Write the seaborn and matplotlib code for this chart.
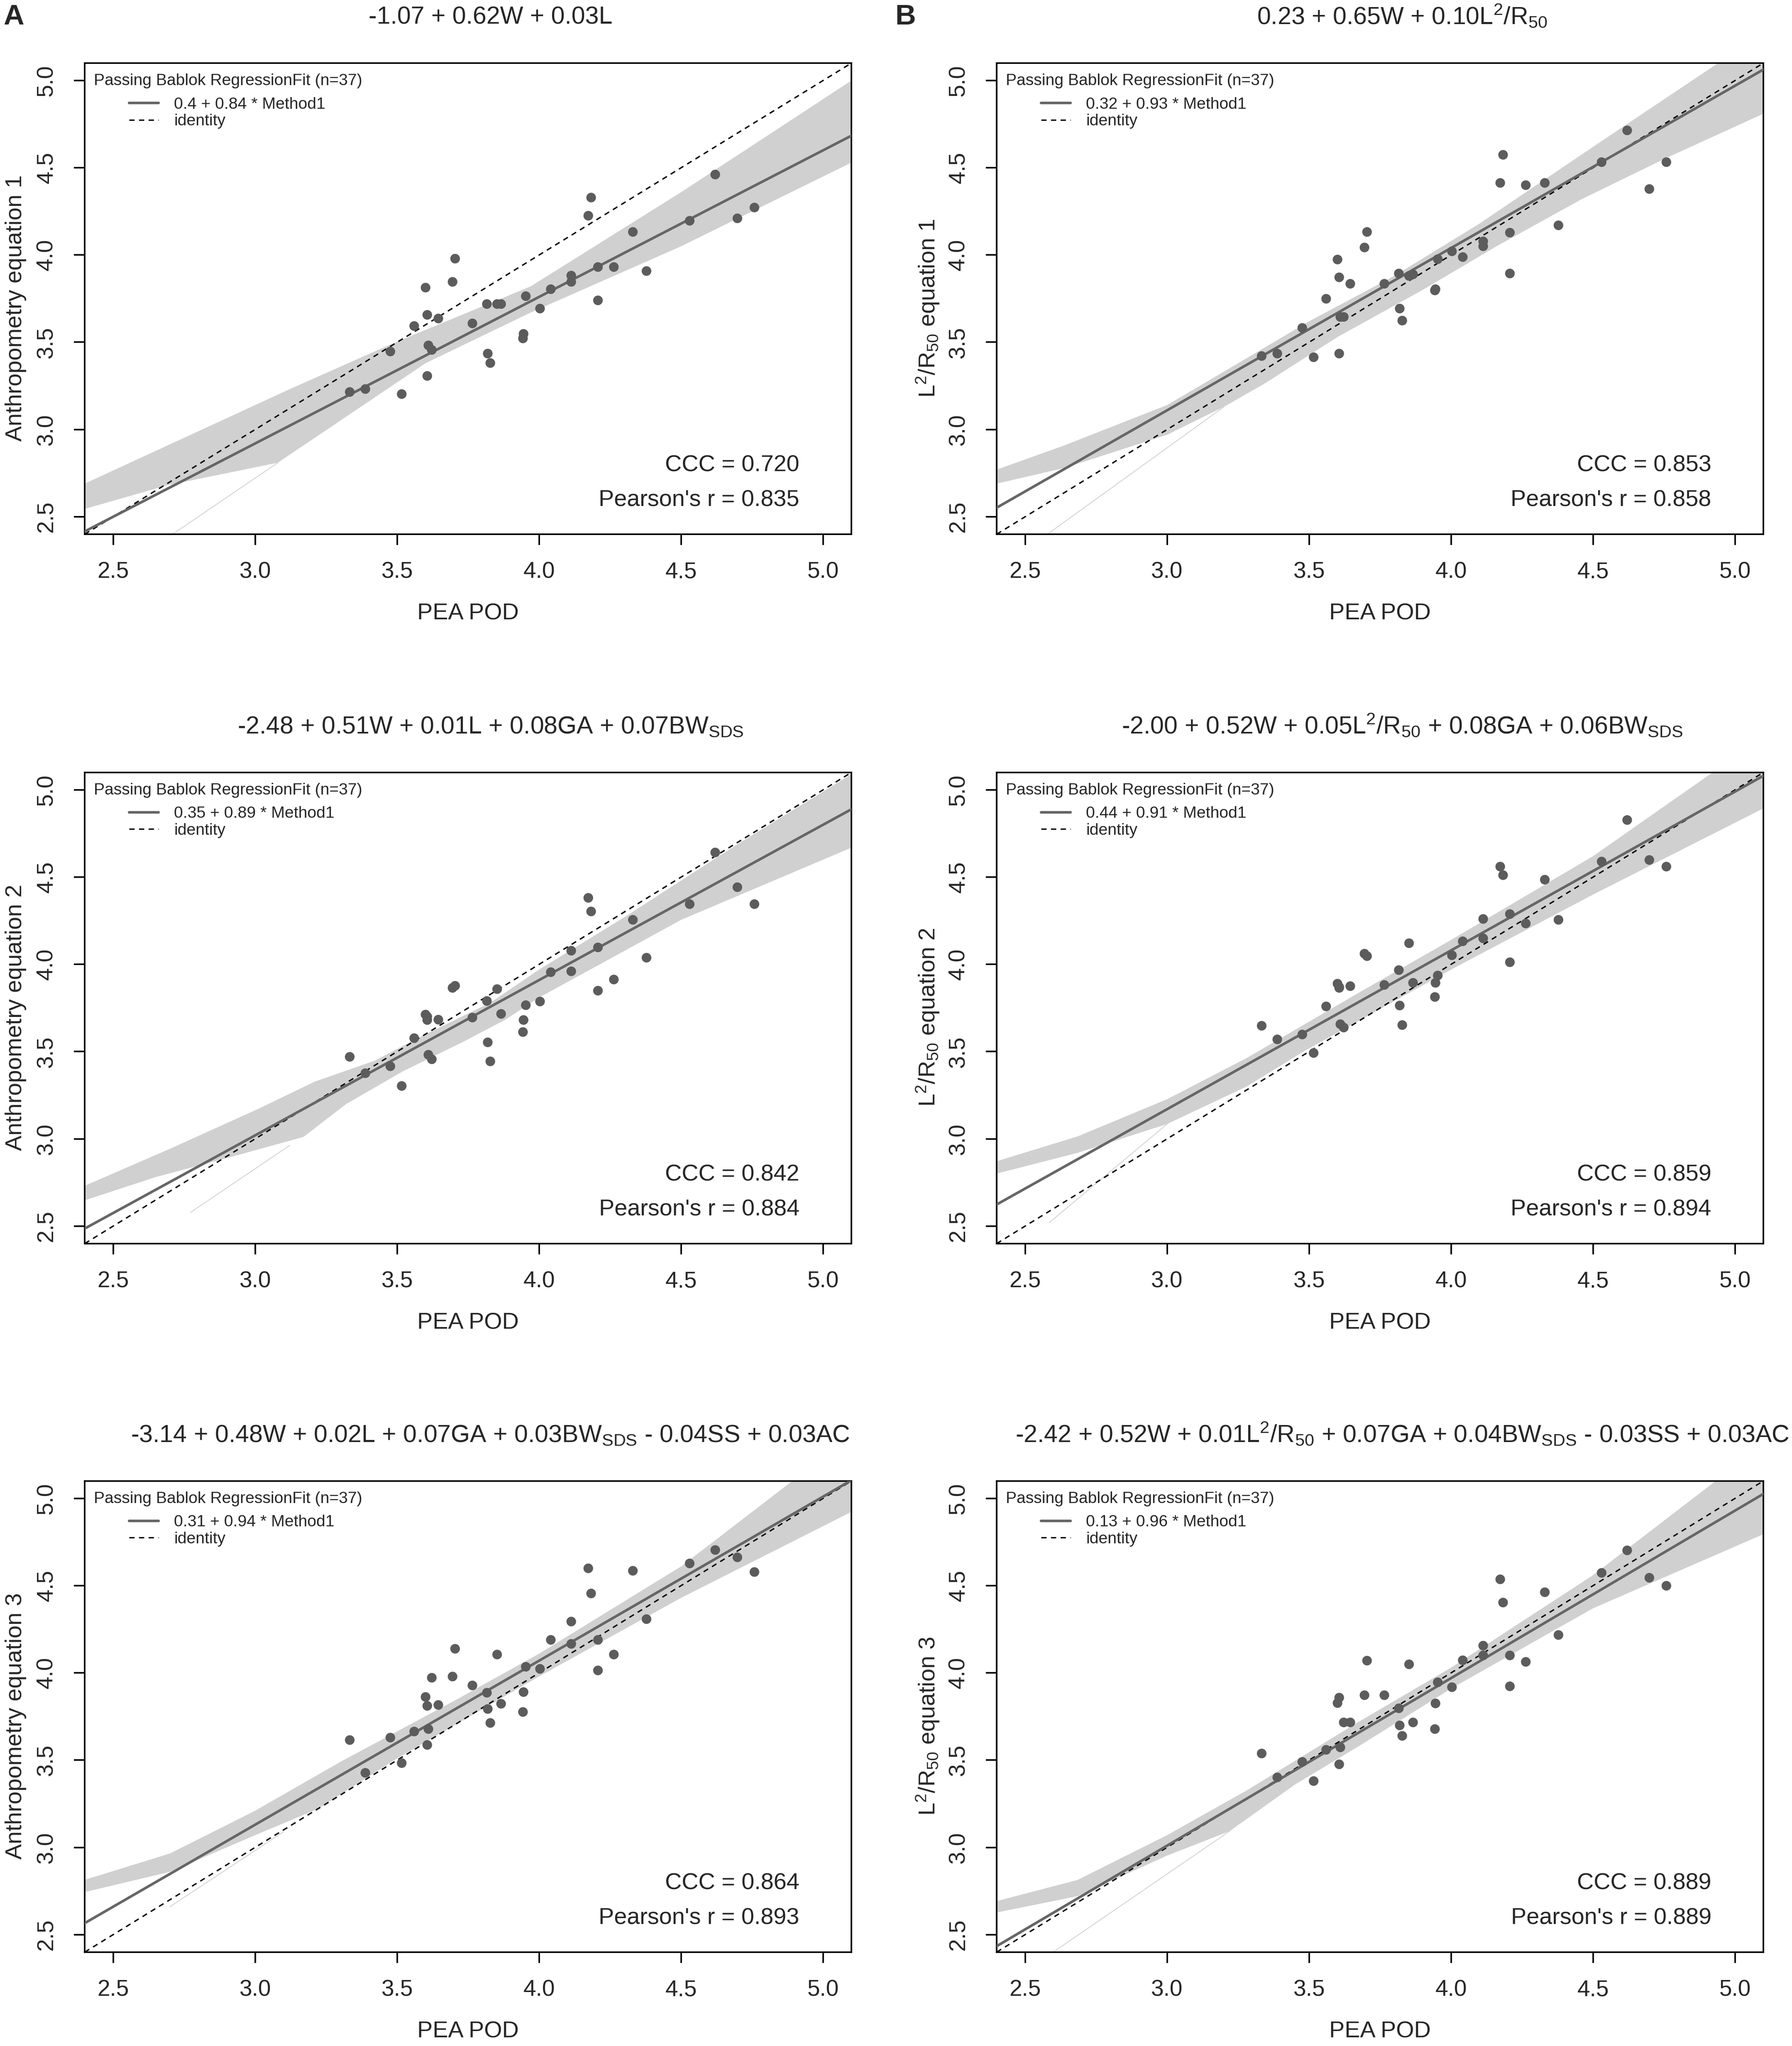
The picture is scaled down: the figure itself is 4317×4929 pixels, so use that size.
"""
Passing-Bablok comparison of PEA POD against six prediction equations
(2 columns x 3 rows), drawn with seaborn / matplotlib.
"""

import numpy as np
import matplotlib
matplotlib.use('Agg')
import matplotlib.pyplot as plt
import seaborn as sns

# ---- data -----------------------------------------------------------------
pea_pod = [4.183, 4.173, 4.620, 4.530, 4.698, 4.758, 4.330, 4.378, 4.263, 4.207,
           4.207, 4.113, 4.113, 4.041, 4.003, 3.953, 3.945, 3.943, 3.866, 3.852,
           3.816, 3.828, 3.819, 3.765, 3.704, 3.695, 3.600, 3.606, 3.645, 3.560,
           3.610, 3.622, 3.606, 3.516, 3.476, 3.388, 3.333]

anthro_1 = [4.329, 4.225, 4.461, 4.196, 4.210, 4.272, 4.132, 3.908, 3.931, 3.931,
            3.740, 3.882, 3.846, 3.804, 3.693, 3.764, 3.548, 3.522, 3.719, 3.719,
            3.719, 3.381, 3.435, 3.608, 3.979, 3.846, 3.813, 3.657, 3.636, 3.593,
            3.482, 3.456, 3.307, 3.203, 3.447, 3.232, 3.215]
lr_1 = [4.574, 4.413, 4.714, 4.532, 4.378, 4.532, 4.413, 4.170, 4.400, 4.128,
        3.894, 4.078, 4.050, 3.988, 4.021, 3.976, 3.804, 3.797, 3.889, 3.880,
        3.894, 3.624, 3.693, 3.835, 4.132, 4.043, 3.974, 3.872, 3.835, 3.749,
        3.645, 3.645, 3.435, 3.414, 3.582, 3.435, 3.421]
anthro_2 = [4.303, 4.381, 4.641, 4.345, 4.442, 4.345, 4.255, 4.038, 3.913, 4.097,
            3.849, 4.078, 3.960, 3.955, 3.787, 3.766, 3.681, 3.612, 3.716, 3.858,
            3.790, 3.444, 3.553, 3.695, 3.877, 3.865, 3.712, 3.681, 3.683, 3.577,
            3.482, 3.456, 3.700, 3.303, 3.416, 3.376, 3.470]
lr_2 = [4.511, 4.560, 4.827, 4.589, 4.598, 4.560, 4.485, 4.255, 4.234, 4.288,
        4.012, 4.260, 4.149, 4.132, 4.052, 3.936, 3.894, 3.813, 3.894, 4.121,
        3.967, 3.652, 3.764, 3.882, 4.047, 4.061, 3.889, 3.865, 3.875, 3.759,
        3.657, 3.638, 3.870, 3.492, 3.598, 3.570, 3.648]
anthro_3 = [4.455, 4.599, 4.704, 4.627, 4.662, 4.578, 4.585, 4.308, 4.105, 4.189,
            4.014, 4.294, 4.166, 4.189, 4.023, 4.035, 3.890, 3.776, 3.823, 4.105,
            3.886, 3.713, 3.793, 3.928, 4.138, 3.979, 3.862, 3.811, 3.816, 3.664,
            3.678, 3.972, 3.587, 3.483, 3.629, 3.427, 3.615]
lr_3 = [4.403, 4.536, 4.702, 4.573, 4.545, 4.499, 4.462, 4.217, 4.063, 4.100,
        3.923, 4.156, 4.100, 4.072, 3.918, 3.946, 3.825, 3.678, 3.716, 4.049,
        3.797, 3.639, 3.699, 3.872, 4.070, 3.872, 3.827, 3.858, 3.716, 3.559,
        3.573, 3.716, 3.476, 3.380, 3.490, 3.401, 3.538]

# Passing-Bablok fits (intercept, slope) as given in the legends
intercepts = [0.40, 0.32, 0.35, 0.44, 0.31, 0.13]
slopes = [0.84, 0.93, 0.89, 0.91, 0.94, 0.96]
fit_labels = ['0.4 + 0.84 * Method1', '0.32 + 0.93 * Method1',
              '0.35 + 0.89 * Method1', '0.44 + 0.91 * Method1',
              '0.31 + 0.94 * Method1', '0.13 + 0.96 * Method1']
ccc = ['0.720', '0.853', '0.842', '0.859', '0.864', '0.889']
pearson = ['0.835', '0.858', '0.884', '0.894', '0.893', '0.889']

titles = [
    '-1.07 + 0.62W + 0.03L',
    r'0.23 + 0.65W + 0.10L$^2$/R$_{50}$',
    r'-2.48 + 0.51W + 0.01L + 0.08GA + 0.07BW$_{SDS}$',
    r'-2.00 + 0.52W + 0.05L$^2$/R$_{50}$ + 0.08GA + 0.06BW$_{SDS}$',
    r'-3.14 + 0.48W + 0.02L + 0.07GA + 0.03BW$_{SDS}$ - 0.04SS + 0.03AC',
    r'-2.42 + 0.52W + 0.01L$^2$/R$_{50}$ + 0.07GA + 0.04BW$_{SDS}$ - 0.03SS + 0.03AC',
]
ylabels = ['Anthropometry equation 1', r'L$^2$/R$_{50}$ equation 1',
           'Anthropometry equation 2', r'L$^2$/R$_{50}$ equation 2',
           'Anthropometry equation 3', r'L$^2$/R$_{50}$ equation 3']

# confidence band edges (x, y)
a1_hi = [(2.4, 2.69), (3.12, 3.23), (3.48, 3.49), (3.97, 3.82), (4.5, 4.36), (5.1, 5.0)]
a1_lo = [(2.4, 2.545), (2.69, 2.68), (3.08, 2.81), (3.60, 3.38), (3.97, 3.67),
         (4.5, 4.05), (5.1, 4.53)]
b1_hi = [(2.4, 2.77), (2.64, 2.91), (3.0, 3.14), (3.24, 3.37), (3.5, 3.62), (3.8, 3.88),
         (4.1, 4.18), (4.5, 4.62), (4.95, 5.11), (5.1, 5.11)]
b1_lo = [(2.4, 2.69), (2.64, 2.78), (3.0, 2.97), (3.2, 3.13), (3.34, 3.26), (3.6, 3.53),
         (3.9, 3.80), (4.16, 4.05), (4.46, 4.32), (4.75, 4.55), (5.1, 4.81)]
a2_hi = [(2.4, 2.731), (2.70, 2.943), (3.01, 3.171), (3.21, 3.328), (3.42, 3.447),
         (3.57, 3.575), (3.83, 3.782), (4.0, 3.97), (4.3, 4.27), (4.7, 4.69), (5.1, 5.09)]
a2_lo = [(2.4, 2.648), (2.65, 2.781), (2.91, 2.894), (3.17, 3.011), (3.32, 3.199),
         (3.52, 3.387), (3.73, 3.554), (3.88, 3.682), (4.0, 3.81), (4.5, 4.255),
         (5.1, 4.669)]
b2_hi = [(2.4, 2.872), (2.685, 3.014), (3.0, 3.227), (3.28, 3.463), (3.68, 3.842),
         (4.0, 4.14), (4.5, 4.62), (4.93, 5.11), (5.1, 5.11)]
b2_lo = [(2.4, 2.801), (2.685, 2.92), (3.0, 3.085), (3.28, 3.30), (3.48, 3.50),
         (4.0, 3.97), (4.5, 4.40), (5.1, 4.894)]
a3_hi = [(2.4, 2.814), (2.7, 2.965), (3.0, 3.21), (3.3, 3.49), (3.7, 3.839), (4.0, 4.11),
         (4.5, 4.61), (4.9, 5.11), (5.1, 5.11)]
a3_lo = [(2.4, 2.744), (2.7, 2.86), (3.0, 3.07), (3.22, 3.22), (3.5, 3.51), (4.0, 3.98),
         (4.5, 4.43), (5.1, 4.923)]
b3_hi = [(2.4, 2.692), (2.684, 2.813), (3.0, 3.07), (3.28, 3.326), (3.675, 3.72),
         (4.0, 4.03), (4.5, 4.56), (4.94, 5.11), (5.1, 5.11)]
b3_lo = [(2.4, 2.627), (2.684, 2.72), (3.0, 2.953), (3.22, 3.093), (3.45, 3.36),
         (3.675, 3.58), (4.0, 3.91), (4.5, 4.37), (5.1, 4.795)]

# faint edge artefact of the band polygon (lower left)
a1_faint = [(2.70, 2.39), (3.08, 2.81)]
b1_faint = [(2.57, 2.39), (3.20, 3.13)]
a2_faint = [(2.773, 2.579), (3.122, 2.963)]
b2_faint = [(2.585, 2.52), (3.0, 3.085)]
a3_faint = [(2.70, 2.66), (3.10, 3.09)]
b3_faint = [(2.59, 2.39), (3.22, 3.093)]

ys = [anthro_1, lr_1, anthro_2, lr_2, anthro_3, lr_3]
bands = [(a1_hi, a1_lo), (b1_hi, b1_lo), (a2_hi, a2_lo),
         (b2_hi, b2_lo), (a3_hi, a3_lo), (b3_hi, b3_lo)]
faints = [a1_faint, b1_faint, a2_faint, b2_faint, a3_faint, b3_faint]
ticks = [2.5, 3.0, 3.5, 4.0, 4.5, 5.0]

# ---- style -----------------------------------------------------------------
sns.set_style('ticks')
plt.rcParams['font.family'] = ['Liberation Sans', 'DejaVu Sans']
plt.rcParams['mathtext.default'] = 'regular'
plt.rcParams['axes.unicode_minus'] = False

W, H = 4317, 4929
fig = plt.figure(figsize=(W / 300, H / 300), dpi=300)

col_left = [0.0473, 0.5562]
row_bottom = [0.7389, 0.3922, 0.0459]
ax_w, ax_h = 0.4279, 0.2303

point_col = '#5c5c5c'
fit_col = '#666666'
band_col = '#d0d0d0'

for i in range(6):
    r, c = divmod(i, 2)
    ax = fig.add_axes([col_left[c], row_bottom[r], ax_w, ax_h])

    hi, lo = bands[i]
    poly = hi + lo[::-1]
    ax.fill([p[0] for p in poly], [p[1] for p in poly],
            color=band_col, lw=0, zorder=1)
    fx = [p[0] for p in faints[i]]
    fy = [p[1] for p in faints[i]]
    ax.plot(fx, fy, color='#d4d4d4', lw=0.5, zorder=1)

    ident = ax.axline((0, 0), slope=1, color='black', lw=0.8,
                      linestyle=(0, (3.8, 3.2)), zorder=2, label='identity')
    fit = ax.axline((0, intercepts[i]), slope=slopes[i], color=fit_col,
                    lw=1.5, zorder=3, label=fit_labels[i])

    sns.scatterplot(x=pea_pod, y=ys[i], ax=ax, color=point_col, s=31,
                    edgecolor='none', linewidth=0, legend=False, zorder=4)

    ax.set_xlim(2.4, 5.1)
    ax.set_ylim(2.4, 5.1)
    ax.set_xticks(ticks)
    ax.set_yticks(ticks)
    ax.set_xticklabels([f'{t:.1f}' for t in ticks])
    ax.set_yticklabels([f'{t:.1f}' for t in ticks], rotation=90, va='center')
    ax.tick_params(axis='both', direction='out', length=6.3, width=0.9,
                   labelsize=13.2, pad=9.5, color='black')
    for s in ax.spines.values():
        s.set_visible(True)
        s.set_linewidth(0.9)
        s.set_color('black')

    ax.set_xlabel('PEA POD', fontsize=13.4, va='center')
    ax.xaxis.set_label_coords(0.5, -0.169)
    ax.set_ylabel(ylabels[i], fontsize=13.4, va='center')
    ax.yaxis.set_label_coords(-0.090, 0.48)

    ax.text(0.529, 1.083, titles[i], transform=ax.transAxes, ha='center',
            va='baseline', fontsize=14.2)

    # legend: title line plus two entries
    ax.text(0.012, 0.962, 'Passing Bablok RegressionFit (n=37)',
            transform=ax.transAxes, ha='left', va='center', fontsize=9.4)
    ax.legend(handles=[fit, ident], loc='upper left',
              bbox_to_anchor=(0.058, 0.928), frameon=False, fontsize=9.4,
              handlelength=1.8, handletextpad=0.95, labelspacing=0.12,
              borderpad=0, borderaxespad=0)

    ax.text(0.932, 0.146, f'CCC = {ccc[i]}', transform=ax.transAxes,
            ha='right', va='center', fontsize=13.4)
    ax.text(0.932, 0.0714, f"Pearson's r = {pearson[i]}", transform=ax.transAxes,
            ha='right', va='center', fontsize=13.4)

fig.text(0.002, 0.9917, 'A', ha='left', va='center', fontsize=16.5,
         fontweight='bold')
fig.text(0.4995, 0.9917, 'B', ha='left', va='center', fontsize=16.5,
         fontweight='bold')

fig.savefig('out.png', dpi=300, facecolor='white')
